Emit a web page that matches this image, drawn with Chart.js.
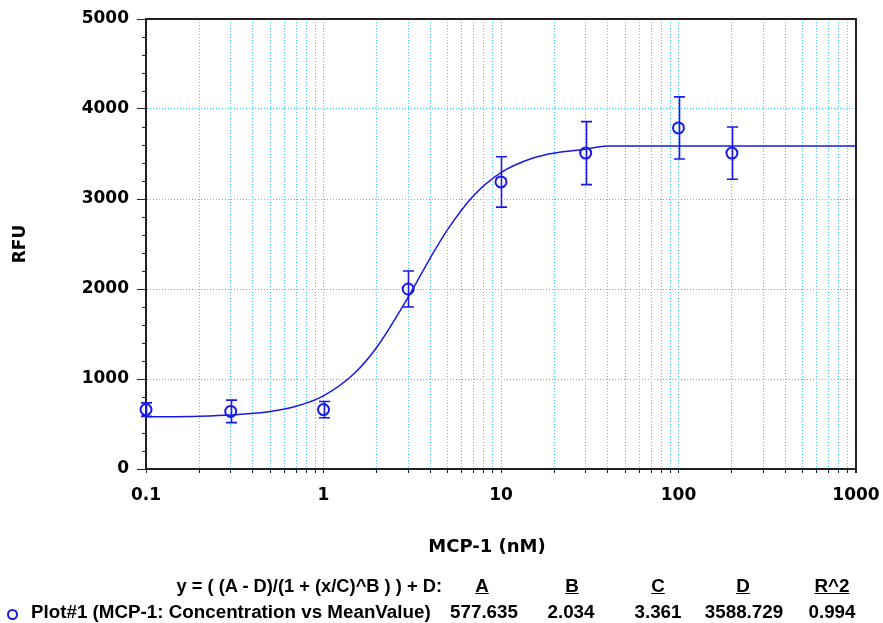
<!DOCTYPE html>
<html>
<head>
<meta charset="utf-8">
<script src="https://cdn.jsdelivr.net/npm/chart.js@4.4.0/dist/chart.umd.min.js"></script>
<style>
  body { margin: 0; background: #fff; }
  #wrap { position: relative; width: 883px; height: 623px; }
  #chart { position: absolute; left: 0; top: 0; }
  .t { position: absolute; white-space: nowrap; color: #000; line-height: 20px;
       font: bold 18.8px "Liberation Sans", Arial, sans-serif; }
  .c { transform: translateX(-50%); }
  .u { text-decoration: underline; }
  #eq { font-size: 18.3px; }
  #xtitle { font: bold 18px "DejaVu Sans", sans-serif; }
  #marker { position: absolute; left: 7px; top: 609px; width: 7px; height: 7px;
            border: 2px solid #1818e8; border-radius: 50%; }
</style>
</head>
<body>
<div id="wrap">
  <canvas id="chart" width="883" height="623"></canvas>
  <div class="t c" id="xtitle" style="left:487px; top:535px;">MCP-1 (nM)</div>
  <div class="t" id="eq" style="right:441px; top:575px;">y = ( (A - D)/(1 + (x/C)^B ) ) + D:</div>
  <div class="t c u" style="left:482px; top:575px;">A</div>
  <div class="t c u" style="left:572px; top:575px;">B</div>
  <div class="t c u" style="left:658px; top:575px;">C</div>
  <div class="t c u" style="left:743px; top:575px;">D</div>
  <div class="t c u" style="left:832px; top:575px;">R^2</div>
  <div id="marker"></div>
  <div class="t" style="left:31px; top:601px;">Plot#1 (MCP-1: Concentration vs MeanValue)</div>
  <div class="t c" style="left:484px; top:601px;">577.635</div>
  <div class="t c" style="left:571px; top:601px;">2.034</div>
  <div class="t c" style="left:658px; top:601px;">3.361</div>
  <div class="t c" style="left:744px; top:601px;">3588.729</div>
  <div class="t c" style="left:832px; top:601px;">0.994</div>
</div>
<script>
// Measured points (mean RFU and error half-width)
const concentrations = [0.1, 0.3, 1, 3, 10, 30, 100, 200];
const meanRFU = [660, 640, 660, 2000, 3190, 3510, 3790, 3510];
const errRFU = [75, 125, 90, 200, 280, 350, 345, 290];

// Fitted 4PL curve
const fitX = [0.1, 0.2, 0.3, 0.5, 0.7, 1, 1.5, 2, 3, 4, 5, 7, 10, 15, 20, 30, 40, 60, 100, 1000];
const fitY = [580, 587, 600, 639, 697, 813, 1066, 1355, 1910, 2347, 2660, 3036, 3293, 3452, 3511, 3554, 3588, 3588, 3588, 3588];

// Axis ticks
const xMajor = [0.1, 1, 10, 100, 1000];
const yMajor = [0, 1000, 2000, 3000, 4000, 5000];
const yMinor = [200, 400, 600, 800, 1200, 1400, 1600, 1800, 2200, 2400, 2600, 2800,
                3200, 3400, 3600, 3800, 4200, 4400, 4600, 4800];

const blue = '#1818e8';
const gridBlue = '#33ccff';
const axisFont = { family: 'DejaVu Sans', size: 17, weight: 'bold' };

// all log ticks 0.1 .. 1000 (1..9 per decade)
const xTicks = [];
xMajor.forEach((d, i) => {
  if (i === xMajor.length - 1) { xTicks.push(d); return; }
  for (let m = 1; m < 10; m++) xTicks.push(parseFloat((m * d).toPrecision(6)));
});

// Frame, minor y ticks and error bars
const extras = {
  id: 'extras',
  afterDatasetsDraw(chart) {
    const { ctx, scales: { x, y } } = chart;
    ctx.save();
    ctx.strokeStyle = blue;
    ctx.lineWidth = 1.6;
    concentrations.forEach((c, i) => {
      const px = Math.round(x.getPixelForValue(c)) + 0.5;
      const top = y.getPixelForValue(meanRFU[i] + errRFU[i]);
      const bot = y.getPixelForValue(meanRFU[i] - errRFU[i]);
      ctx.beginPath();
      ctx.moveTo(px, top); ctx.lineTo(px, bot);
      ctx.moveTo(px - 5.5, top); ctx.lineTo(px + 5.5, top);
      ctx.moveTo(px - 5.5, bot); ctx.lineTo(px + 5.5, bot);
      ctx.stroke();
    });
    ctx.restore();
  },
  afterDraw(chart) {
    const { ctx, chartArea: a, scales: { y } } = chart;
    ctx.save();
    ctx.strokeStyle = '#222';
    ctx.lineWidth = 2;
    ctx.beginPath();
    ctx.moveTo(a.left, a.top); ctx.lineTo(a.right, a.top); ctx.lineTo(a.right, a.bottom + 4);
    ctx.stroke();
    ctx.lineWidth = 1;
    yMinor.forEach(v => {
      const py = Math.round(y.getPixelForValue(v)) + 0.5;
      ctx.beginPath();
      ctx.moveTo(a.left - 4, py); ctx.lineTo(a.left, py);
      ctx.stroke();
    });
    ctx.restore();
  }
};

const ctx = document.getElementById('chart').getContext('2d');
const chart = new Chart(ctx, {
  type: 'line',
  data: {
    datasets: [{
      label: 'MeanValue',
      data: concentrations.map((c, i) => ({ x: c, y: meanRFU[i] })),
      showLine: false,
      pointRadius: 5.5,
      pointBorderWidth: 2,
      pointBorderColor: blue,
      pointBackgroundColor: 'rgba(0,0,0,0)',
      clip: false
    }, {
      label: 'Fit',
      data: fitX.map((c, i) => ({ x: c, y: fitY[i] })),
      borderColor: blue,
      borderWidth: 1.5,
      pointRadius: 0,
      cubicInterpolationMode: 'monotone',
      fill: false
    }]
  },
  options: {
    responsive: false,
    animation: false,
    layout: { padding: { top: 19, right: 27, left: 0, bottom: 0 } },
    scales: {
      x: {
        type: 'logarithmic',
        min: 0.1,
        max: 1000,
        afterFit: scale => { scale.height = 154; scale.paddingLeft = 0; scale.paddingRight = 0; },
        afterBuildTicks: scale => { scale.ticks = xTicks.map(v => ({ value: v })); },
        ticks: {
          autoSkip: false,
          maxRotation: 0,
          padding: 12,
          color: '#000',
          font: axisFont,
          callback: v => xMajor.includes(v) ? String(v) : ''
        },
        grid: { color: gridBlue, tickColor: '#222', tickLength: 4, lineWidth: 1 },
        border: { color: '#222', width: 2, dash: [1, 2] }
      },
      y: {
        min: 0,
        max: 5000,
        afterFit: scale => { scale.width = 146; scale.paddingTop = 0; scale.paddingBottom = 0; },
        afterBuildTicks: scale => { scale.ticks = yMajor.map(v => ({ value: v })); },
        ticks: { padding: 8, color: '#000', font: axisFont, callback: v => String(v) },
        grid: { color: gridBlue, tickColor: '#222', tickLength: 9, lineWidth: 1 },
        border: { color: '#222', width: 2, dash: [1, 2] },
        title: { display: true, text: 'RFU', color: '#000', font: axisFont, padding: { top: 10 } }
      }
    },
    plugins: {
      legend: { display: false },
      tooltip: { enabled: false }
    }
  },
  plugins: [extras]
});
</script>
</body>
</html>
